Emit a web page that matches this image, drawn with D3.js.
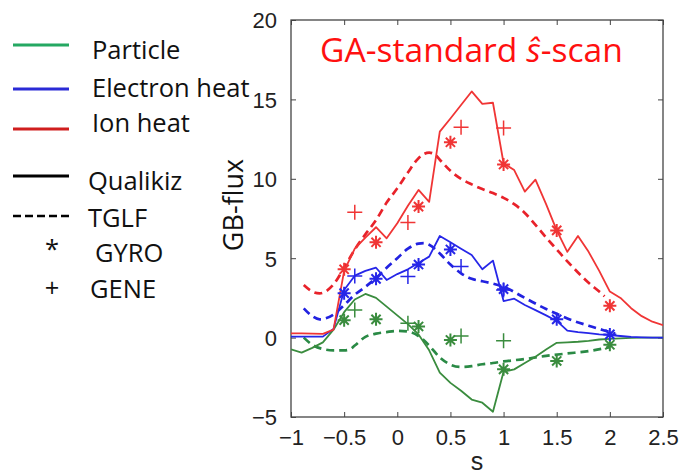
<!DOCTYPE html>
<html>
<head>
<meta charset="utf-8">
<script src="https://cdn.jsdelivr.net/npm/d3@7"></script>
<style>
  html, body { margin: 0; padding: 0; background: #fff; }
  svg { display: block; }
</style>
</head>
<body>
<svg id="chart" width="682" height="474"></svg>
<script>
// ---------------- DATA ----------------
const qualS = [-1,-0.9,-0.8,-0.7,-0.6,-0.5,-0.4,-0.3,-0.2,-0.1,0,0.1,0.2,0.3,0.4,0.5,0.6,0.7,0.8,0.9,1,1.1,1.2,1.3,1.4,1.5,1.6,1.7,1.8,1.9,2,2.1,2.2,2.3,2.4,2.5];
const qualIon = [0.27,0.27,0.25,0.23,0.5,4.2,5.6,6.3,6.95,6.25,7.2,8.3,9.3,8.55,12.97,13.8,14.65,15.5,14.72,14.79,10.98,10.55,9.19,9.95,8.4,6.75,5.4,6.4,5.4,4.2,2.9,2.5,1.85,1.35,1.0,0.78];
const qualEle = [0.06,0.06,0.06,0.06,0.55,3.0,3.9,4.2,4.4,3.63,4.0,4.3,4.7,5.1,6.4,6.0,5.6,5.2,4.3,4.85,2.3,2.45,2.05,1.73,1.4,1.05,0.44,0.35,0.28,0.2,0.16,0.1,0.05,0.02,0,0];
const qualPart = [-0.74,-0.95,-0.65,-0.3,0.5,1.6,2.4,2.75,2.5,1.95,1.4,0.85,0.2,-0.8,-2.2,-2.85,-3.35,-3.9,-4.1,-4.67,-2.15,-2.0,-1.6,-1.2,-0.75,-0.33,-0.3,-0.26,-0.2,-0.12,-0.08,-0.05,-0.02,0,0,0];

const tglfIonS = [-0.88,-0.8,-0.73,-0.6,-0.5,-0.4,-0.3,-0.2,-0.1,0,0.1,0.2,0.3,0.35,0.4,0.5,0.6,0.7,0.8,0.9,1,1.1,1.2,1.3,1.4,1.5,1.6,1.7,1.8,1.9,1.95];
const tglfIon = [3.31,2.9,2.79,3.35,4.4,5.55,6.5,7.4,8.5,9.4,10.4,11.3,11.65,11.55,11.2,10.5,10.0,9.65,9.35,9.1,8.8,8.4,7.85,7.1,6.3,5.55,4.8,4.1,3.45,2.9,2.6];
const tglfEleS = [-0.88,-0.8,-0.73,-0.6,-0.5,-0.4,-0.3,-0.2,-0.1,0,0.1,0.2,0.25,0.3,0.4,0.5,0.6,0.7,0.8,0.9,1,1.2,1.4,1.5,1.6,1.8,2.0,2.05];
const tglfEle = [1.84,1.35,1.15,1.45,2.05,2.7,3.2,3.75,4.4,5.0,5.6,5.92,5.95,5.85,5.3,4.6,4.05,3.7,3.55,3.4,3.2,2.5,1.8,1.5,1.2,0.75,0.35,0.25];
const tglfPartS = [-0.88,-0.8,-0.7,-0.6,-0.5,-0.45,-0.4,-0.3,-0.2,-0.1,0,0.1,0.2,0.3,0.4,0.5,0.6,0.7,0.8,0.9,1,1.2,1.4,1.6,1.8,2.0];
const tglfPart = [0.0,-0.45,-0.72,-0.8,-0.8,-0.75,-0.5,0.05,0.25,0.35,0.42,0.38,0.1,-0.5,-1.25,-1.7,-1.85,-1.8,-1.68,-1.6,-1.5,-1.35,-1.15,-1.0,-0.85,-0.6];

const gyroS = [-0.5,-0.2,0.2,0.5,1.0,1.5,2.0];
const gyroIon = [4.3,6.0,8.25,12.3,10.9,6.75,2.0];
const gyroEle = [2.8,3.7,4.6,5.55,3.05,1.15,0.2];
const gyroPart = [1.1,1.15,0.7,-0.15,-2.0,-1.47,-0.45];

const geneS = [-0.4,0.1,0.6,1.0];
const geneIon = [7.9,7.25,13.25,13.2];
const geneEle = [3.88,3.84,4.47,3.0];
const genePart = [1.74,0.9,0.1,-0.2];

const xTicks = [-1,-0.5,0,0.5,1,1.5,2,2.5];
const yTicks = [-5,0,5,10,15,20];
const legendSpecies = ["Particle","Electron heat","Ion heat"];
const legendCodes = ["Qualikiz","TGLF","GYRO","GENE"];

// ---------------- LAYOUT ----------------
const svg = d3.select("#chart");
const L = 291, R = 663, T = 20, B = 417;
const x = d3.scaleLinear().domain([-1, 2.5]).range([L, R]);
const y = d3.scaleLinear().domain([-5, 20]).range([B, T]);

const col = { ion: "#f03535", ele: "#2626e8", part: "#3a8c3e" };
const colDash = { ion: "#e8222a", ele: "#2222e0", part: "#2a8a45" };

const fmt = v => (v < 0 ? "\u2212" : "") + Math.abs(v);

// frame
svg.append("rect").attr("x", L).attr("y", T).attr("width", R - L).attr("height", B - T)
  .attr("fill", "none").attr("stroke", "#444").attr("stroke-width", 1.3);

// axes with inward ticks
const gx = svg.append("g").attr("transform", `translate(0,${B})`)
  .call(d3.axisBottom(x).tickValues(xTicks).tickSizeInner(-5).tickSizeOuter(0).tickPadding(14).tickFormat(fmt));
const gxt = svg.append("g").attr("transform", `translate(0,${T})`)
  .call(d3.axisTop(x).tickValues(xTicks).tickSizeInner(-5).tickSizeOuter(0).tickFormat(""));
const gy = svg.append("g").attr("transform", `translate(${L},0)`)
  .call(d3.axisLeft(y).tickValues(yTicks).tickSizeInner(-5).tickSizeOuter(0).tickPadding(14).tickFormat(fmt));
const gyr = svg.append("g").attr("transform", `translate(${R},0)`)
  .call(d3.axisRight(y).tickValues(yTicks).tickSizeInner(-5).tickSizeOuter(0).tickFormat(""));
[gx, gxt, gy, gyr].forEach(g => {
  g.select(".domain").remove();
  g.selectAll(".tick line").attr("stroke", "#444").attr("stroke-width", 1);
  g.selectAll("text").attr("font-family", "Liberation Sans, Arial, sans-serif")
    .attr("font-size", 22).attr("fill", "#222");
});
gx.selectAll("text").attr("dy", null).attr("y", 28);
gy.selectAll("text").attr("dy", "0.36em");

// axis labels
svg.append("text").attr("x", (L + R) / 2).attr("y", 470).attr("text-anchor", "middle")
  .attr("font-family", "Liberation Sans, Arial, sans-serif").attr("font-size", 25).attr("fill", "#222").text("s");
svg.append("text").attr("transform", "translate(243,205) rotate(-90)").attr("text-anchor", "middle")
  .attr("font-family", "Open Sans, sans-serif").attr("font-size", 27).attr("fill", "#111").text("GB-flux");

// title
const title = svg.append("text").attr("x", 320).attr("y", 62)
  .attr("font-family", "Open Sans, sans-serif").attr("font-size", 31).attr("fill", "#ff1010");
title.append("tspan").text("GA-standard ");
title.append("tspan").attr("font-style", "italic").text("\u015D");
title.append("tspan").text("-scan");
(function fit() {
  const w = title.node().getComputedTextLength();
  if (w > 0) title.attr("font-size", 31 * 303 / w);
})();

// clip
svg.append("clipPath").attr("id", "clip").append("rect")
  .attr("x", L).attr("y", T).attr("width", R - L).attr("height", B - T);
const plot = svg.append("g").attr("clip-path", "url(#clip)");

const lineLin = d3.line().x(d => x(d[0])).y(d => y(d[1]));
const lineSmooth = d3.line().x(d => x(d[0])).y(d => y(d[1])).curve(d3.curveMonotoneX);
const zip = (a, b) => a.map((v, i) => [v, b[i]]);

// TGLF dashed
[[tglfPartS, tglfPart, colDash.part], [tglfEleS, tglfEle, colDash.ele], [tglfIonS, tglfIon, colDash.ion]]
  .forEach(([s, v, c]) => {
    plot.append("path").attr("d", lineSmooth(zip(s, v))).attr("fill", "none")
      .attr("stroke", c).attr("stroke-width", 2.7).attr("stroke-dasharray", "8,5");
  });
// Qualikiz solid
[[qualPart, col.part], [qualEle, col.ele], [qualIon, col.ion]].forEach(([v, c]) => {
  plot.append("path").attr("d", lineLin(zip(qualS, v))).attr("fill", "none")
    .attr("stroke", c).attr("stroke-width", 1.8).attr("stroke-linejoin", "round");
});

// markers
const starPath = r => {
  const d = r * Math.SQRT1_2;
  return `M${-r},0L${r},0M0,${-r}L0,${r}M${-d},${-d}L${d},${d}M${-d},${d}L${d},${-d}`;
};
const plusPath = r => `M${-r},0L${r},0M0,${-r}L0,${r}`;
[[gyroPart, col.part], [gyroEle, col.ele], [gyroIon, col.ion]].forEach(([v, c]) => {
  plot.selectAll(null).data(zip(gyroS, v)).enter().append("path")
    .attr("transform", d => `translate(${x(d[0])},${y(d[1])})`)
    .attr("d", starPath(6.5)).attr("fill", "none").attr("stroke", c).attr("stroke-width", 2);
});
[[genePart, col.part], [geneEle, col.ele], [geneIon, col.ion]].forEach(([v, c]) => {
  plot.selectAll(null).data(zip(geneS, v)).enter().append("path")
    .attr("transform", d => `translate(${x(d[0])},${y(d[1])})`)
    .attr("d", plusPath(7.5)).attr("fill", "none").attr("stroke", c).attr("stroke-width", 1.5);
});

// ---------------- LEGEND ----------------
const lg = svg.append("g").attr("font-family", "Open Sans, sans-serif").attr("font-size", 25.5).attr("fill", "#111");
const legendColors = ["#25a862", "#2a2ad6", "#d01e1e"];
const speciesLineY = [45, 89, 129];
const speciesTextY = [59, 96.5, 132];
legendSpecies.forEach((name, i) => {
  lg.append("line").attr("x1", 13).attr("x2", 69).attr("y1", speciesLineY[i]).attr("y2", speciesLineY[i])
    .attr("stroke", legendColors[i]).attr("stroke-width", 3);
  lg.append("text").attr("x", 92).attr("y", speciesTextY[i]).text(name);
});
const codeY = [190, 226.5, 261.5, 298];
const codeX = [88, 88, 95, 90];
lg.append("line").attr("x1", 13).attr("x2", 69).attr("y1", 176).attr("y2", 176)
  .attr("stroke", "#000").attr("stroke-width", 3);
lg.append("line").attr("x1", 13).attr("x2", 69).attr("y1", 216).attr("y2", 216)
  .attr("stroke", "#000").attr("stroke-width", 2.5).attr("stroke-dasharray", "8,4");
lg.append("text").attr("x", 52).attr("y", 258).attr("text-anchor", "middle").text("*");
lg.append("text").attr("x", 52).attr("y", 297).attr("text-anchor", "middle").text("+");
legendCodes.forEach((name, i) => {
  lg.append("text").attr("x", codeX[i]).attr("y", codeY[i]).text(name);
});
</script>
</body>
</html>
